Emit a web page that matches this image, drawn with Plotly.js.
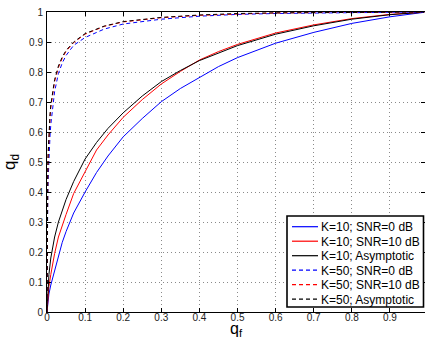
<!DOCTYPE html>
<html>
<head>
<meta charset="utf-8">
<script src="https://cdn.plot.ly/plotly-3.0.1.min.js"></script>
<style>html,body{margin:0;padding:0;background:#fff;}#chart{width:425px;height:339px;}</style>
</head>
<body>
<div id="chart"></div>
<script>
// q_f grid for K=10 curves
const qfK10 = [0, 0.002, 0.005, 0.01, 0.02, 0.03, 0.04, 0.05, 0.07, 0.1, 0.13, 0.16, 0.2, 0.25, 0.3, 0.35, 0.4, 0.45, 0.5, 0.6, 0.7, 0.8, 0.9, 0.99];
const qdK10_0dB  = [0, 0.03, 0.06, 0.09, 0.14, 0.19, 0.232, 0.268, 0.33, 0.4, 0.465, 0.52, 0.584, 0.645, 0.701, 0.745, 0.782, 0.818, 0.848, 0.896, 0.932, 0.962, 0.984, 0.999];
const qdK10_10dB = [0, 0.045, 0.085, 0.125, 0.195, 0.25, 0.29, 0.325, 0.395, 0.47, 0.54, 0.59, 0.649, 0.708, 0.76, 0.802, 0.84, 0.868, 0.892, 0.93, 0.957, 0.978, 0.992, 0.9995];
const qdK10_asym = [0, 0.07, 0.125, 0.18, 0.25, 0.3, 0.34, 0.375, 0.435, 0.51, 0.565, 0.612, 0.664, 0.72, 0.768, 0.805, 0.838, 0.864, 0.888, 0.926, 0.954, 0.976, 0.991, 0.9995];

// q_f grid for K=50 curves
const qfK50 = [0, 0.0005, 0.001, 0.002, 0.003, 0.005, 0.008, 0.01, 0.015, 0.02, 0.03, 0.04, 0.05, 0.07, 0.1, 0.15, 0.2, 0.3, 0.4, 0.5, 0.6, 0.7, 0.8, 0.9, 0.99];
const qdK50_0dB  = [0, 0.22, 0.29, 0.38, 0.44, 0.52, 0.59, 0.625, 0.69, 0.735, 0.795, 0.83, 0.855, 0.889, 0.915, 0.943, 0.96, 0.976, 0.986, 0.992, 0.995, 0.997, 0.998, 0.999, 1.0];
const qdK50_10dB = [0, 0.29, 0.37, 0.46, 0.52, 0.59, 0.65, 0.682, 0.733, 0.768, 0.815, 0.846, 0.869, 0.898, 0.926, 0.952, 0.967, 0.981, 0.989, 0.994, 0.997, 0.998, 0.999, 0.9995, 1.0];
const qdK50_asym = [0, 0.3, 0.38, 0.47, 0.53, 0.6, 0.66, 0.69, 0.74, 0.775, 0.82, 0.85, 0.872, 0.9, 0.928, 0.953, 0.968, 0.982, 0.99, 0.995, 0.997, 0.998, 0.999, 0.9995, 1.0];

const seriesNames = ['K=10; SNR=0 dB', 'K=10; SNR=10 dB', 'K=10; Asymptotic', 'K=50; SNR=0 dB', 'K=50; SNR=10 dB', 'K=50; Asymptotic'];
const seriesColors = ['#0000ff', '#ff0000', '#000000', '#0000ff', '#ff0000', '#000000'];
const seriesDash = ['solid', 'solid', 'solid', '4px,3px', '4px,3px', '4px,3px'];
const xTicks = [0, 0.1, 0.2, 0.3, 0.4, 0.5, 0.6, 0.7, 0.8, 0.9];
const xTickLabels = ['0', '0.1', '0.2', '0.3', '0.4', '0.5', '0.6', '0.7', '0.8', '0.9'];
const yTicks = [0, 0.1, 0.2, 0.3, 0.4, 0.5, 0.6, 0.7, 0.8, 0.9, 1];
const yTickLabels = ['0', '0.1', '0.2', '0.3', '0.4', '0.5', '0.6', '0.7', '0.8', '0.9', '1'];

const FONT = 'Liberation Sans, Arial, Helvetica, sans-serif';
const W = 425, H = 339, M = {l: 47, r: 0, t: 12, b: 27};
const PW = W - M.l - M.r, PH = H - M.t - M.b;
const px2x = p => (p - M.l) / PW;      // pixel -> paper x
const px2y = p => (H - M.b - p) / PH;  // pixel -> paper y

const xs = [qfK10, qfK10, qfK10, qfK50, qfK50, qfK50];
const ys = [qdK10_0dB, qdK10_10dB, qdK10_asym, qdK50_0dB, qdK50_10dB, qdK50_asym];
const data = seriesNames.map((n, i) => ({
  x: xs[i], y: ys[i], name: n, type: 'scatter', mode: 'lines',
  line: {color: seriesColors[i], width: 1, dash: seriesDash[i]}
}));

// legend box (drawn as shapes + text so that its compact spacing matches)
const shapes = [{type: 'rect', xref: 'paper', yref: 'paper',
  x0: px2x(287), x1: px2x(423.5), y0: px2y(307), y1: px2y(216),
  fillcolor: '#fff', line: {color: '#000', width: 1.6}, layer: 'above'}];
const annotations = [];
seriesNames.forEach((n, i) => {
  const py = 226.7 + i * 14.5;
  shapes.push({type: 'line', xref: 'paper', yref: 'paper',
    x0: px2x(292), x1: px2x(318), y0: px2y(py), y1: px2y(py),
    line: {color: seriesColors[i], width: 1.2, dash: seriesDash[i]}, layer: 'above'});
  annotations.push({xref: 'paper', yref: 'paper', x: px2x(319), y: px2y(py + 0.5),
    xanchor: 'left', yanchor: 'middle', showarrow: false, text: n,
    font: {family: FONT, size: 12, color: '#000'}});
});

const axisCommon = {
  showline: true, linecolor: '#000', linewidth: 1, mirror: 'ticks',
  ticks: 'inside', ticklen: 4, tickcolor: '#000', tickwidth: 1,
  showgrid: true, gridcolor: '#8a8a8a', gridwidth: 1, griddash: '1px,3px',
  zeroline: false, tickfont: {family: FONT, size: 10, color: '#222'}
};
const layout = {
  width: W, height: H, margin: M,
  paper_bgcolor: '#fff', plot_bgcolor: '#fff',
  font: {family: FONT, color: '#000'},
  showlegend: false,
  shapes: shapes, annotations: annotations,
  xaxis: Object.assign({}, axisCommon, {
    range: [0, 0.992], tickvals: xTicks, ticktext: xTickLabels, ticklabelstandoff: -4,
    title: {text: 'q<sub>f</sub>', font: {family: FONT, size: 16}, standoff: 14}
  }),
  yaxis: Object.assign({}, axisCommon, {
    range: [0, 1], tickvals: yTicks, ticktext: yTickLabels, ticklabelstandoff: 1,
    title: {text: 'q<sub>d</sub>', font: {family: FONT, size: 17}, standoff: 10}
  })
};
Plotly.newPlot('chart', data, layout, {displayModeBar: false, staticPlot: true});
</script>
</body>
</html>
